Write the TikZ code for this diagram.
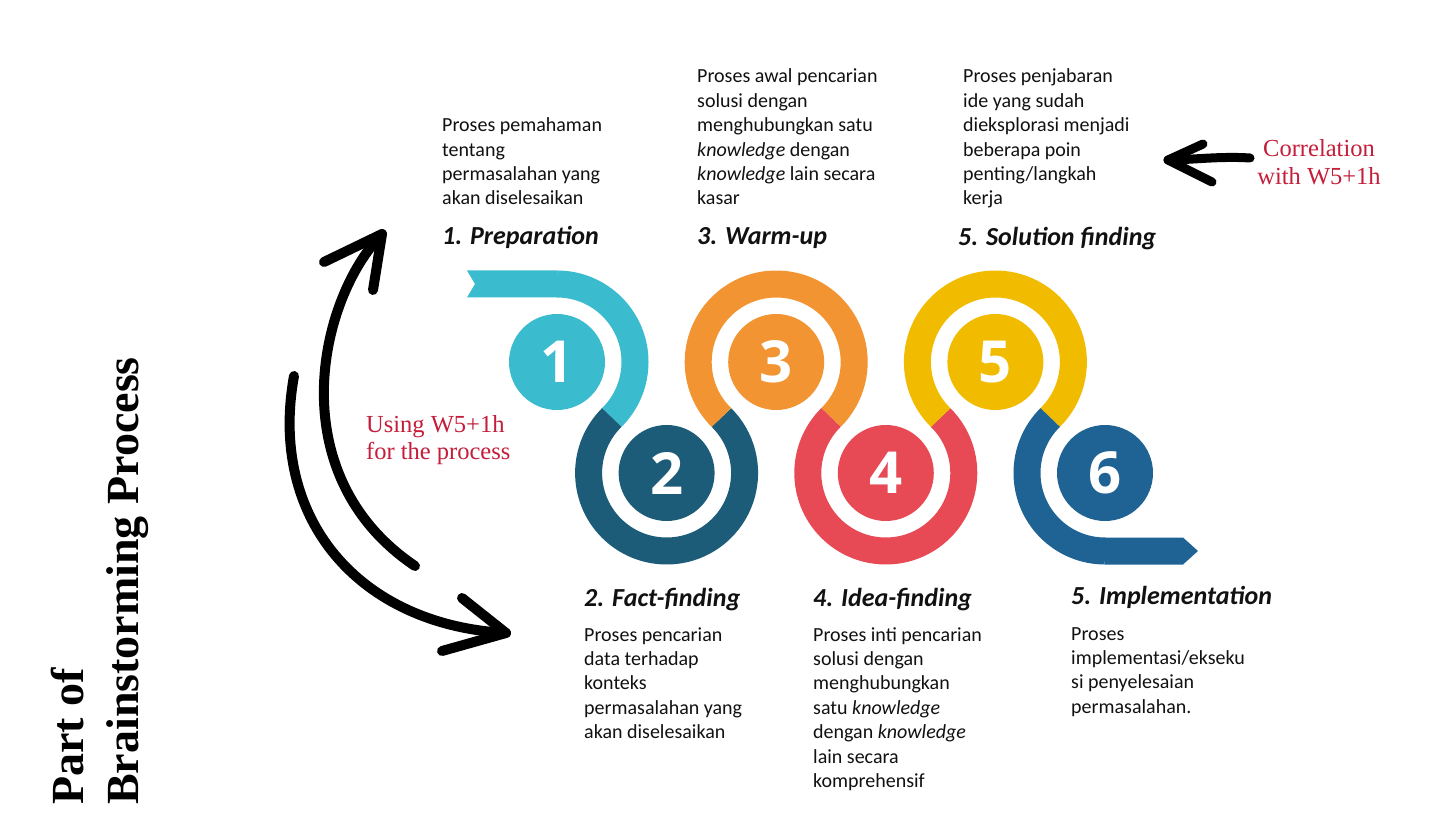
\documentclass[tikz,border=0pt]{standalone}
\usepackage{fontspec}
\setmainfont{Carlito}
\newfontfamily\numfont{Open Sans}
\newfontfamily\rfont{Liberation Serif}
\definecolor{cA}{HTML}{3BBBCE}
\definecolor{cB}{HTML}{1D5C78}
\definecolor{cC}{HTML}{F29431}
\definecolor{cD}{HTML}{E84A55}
\definecolor{cE}{HTML}{F1BC00}
\definecolor{cF}{HTML}{1F6294}
\definecolor{redtext}{HTML}{C41E3A}
\definecolor{ink}{HTML}{111111}
\begin{document}
\begin{tikzpicture}[x=1pt,y=1pt,
  band/.style={line width=27pt},
  numdisc/.style={circle, inner sep=0pt, minimum size=96pt, text=white, font=\numfont\bfseries\fontsize{58}{58}\selectfont},
  body/.style={anchor=base west, inner sep=0pt, align=left, text=ink, font=\fontsize{20}{24.4}\selectfont},
  ttl/.style={anchor=base west, inner sep=0pt, text=ink, font=\fontsize{26}{30}\selectfont\bfseries\itshape},
  redlbl/.style={inner sep=0pt, text=redtext, font=\rfont\fontsize{24.5}{27.5}\selectfont},
  hand/.style={line width=10pt, line cap=round, line join=round, draw=black}]
\useasboundingbox (0,0) rectangle (1436,-837);
\fill[white] (0,0) rectangle (1436,-837);

% centres
\coordinate (c1) at (557,-362);
\coordinate (c2) at (666.6,-473);
\coordinate (c3) at (776.2,-362);
\coordinate (c4) at (885.8,-473);
\coordinate (c5) at (995.4,-362);
\coordinate (c6) at (1105,-473);

% snake bands
\fill[cA] (467,-270.5) -- (557.5,-270.5) -- (557.5,-297.5) -- (467,-297.5) -- (475,-284) -- cycle;
\draw[band, cA] (c1) ++(90:78) arc[start angle=90, end angle=-45.36, radius=78];
\draw[band, cB] (c2) ++(134.64:78) arc[start angle=134.64, end angle=405.36, radius=78];
\draw[band, cC] (c3) ++(225.36:78) arc[start angle=225.36, end angle=-45.36, radius=78];
\draw[band, cD] (c4) ++(134.64:78) arc[start angle=134.64, end angle=405.36, radius=78];
\draw[band, cE] (c5) ++(225.36:78) arc[start angle=225.36, end angle=-45.36, radius=78];
\draw[band, cF] (c6) ++(134.64:78) arc[start angle=134.64, end angle=270, radius=78];
\fill[cF] (1104.5,-537.5) -- (1183,-537.5) -- (1198,-551) -- (1183,-564.5) -- (1104.5,-564.5) -- cycle;

% number discs
\node[numdisc, fill=cA] (n1) at (c1) {1};
\node[numdisc, fill=cB] (n2) at (c2) {2};
\node[numdisc, fill=cC] (n3) at (c3) {3};
\node[numdisc, fill=cD] (n4) at (c4) {4};
\node[numdisc, fill=cE] (n5) at (c5) {5};
\node[numdisc, fill=cF] (n6) at (c6) {6};

% top texts (anchor = baseline of last line)
\node[body] (b1) at (442,-205) {Proses pemahaman\\tentang\\permasalahan yang\\akan diselesaikan};
\node[ttl] (t1) at (442,-245) {1. Preparation};
\node[body] (b3) at (697,-205) {Proses awal pencarian\\solusi dengan\\menghubungkan satu\\\emph{knowledge} dengan\\\emph{knowledge} lain secara\\kasar};
\node[ttl] (t3) at (697,-245) {3. Warm-up};
\node[body] (b5) at (963,-205) {Proses penjabaran\\ide yang sudah\\dieksplorasi menjadi\\beberapa poin\\penting/langkah\\kerja};
\node[ttl] (t5) at (958,-246) {5. Solution finding};

% bottom texts
\node[ttl] (t2) at (584,-606) {2. Fact-finding};
\node[body] (b2) at (584,-738.6) {Proses pencarian\\data terhadap\\konteks\\permasalahan yang\\akan diselesaikan};
\node[ttl] (t4) at (813,-606) {4. Idea-finding};
\node[body] (b4) at (813,-787.4) {Proses inti pencarian\\solusi dengan\\menghubungkan\\satu \emph{knowledge}\\dengan \emph{knowledge}\\lain secara\\komprehensif};
\node[ttl] (t6) at (1071,-604) {5. Implementation};
\node[body] (b6) at (1071,-713.2) {Proses\\implementasi/ekseku\\si penyelesaian\\permasalahan.};

% red labels
\node[redlbl, anchor=base west, align=left] (use) at (366,-459.5) {Using W5+1h\\for the process};
\node[redlbl, anchor=base, align=center] (corr) at (1319,-184.5) {Correlation\\with W5+1h};

% side title
\node[rotate=90, anchor=base west, align=left, inner sep=0pt, text=black,
      font=\rfont\bfseries\fontsize{46}{55}\selectfont] (side) at (138,-805) {Part of\\Brainstorming Process};

% hand-drawn arrows
\coordinate (a1s) at (415,-566);
\coordinate (a1e) at (382,-234);
\coordinate (a1l) at (324,-262);
\coordinate (a1r) at (373,-290);
\draw[hand] (a1s) .. controls (280,-475) and (318,-300) .. (a1e);
\draw[hand] (a1l) -- (a1e) -- (a1r);

\coordinate (a2s) at (294,-376);
\coordinate (a2e) at (506,-633);
\coordinate (a2u) at (462,-598);
\coordinate (a2d) at (442,-651);
\draw[hand] (a2s) .. controls (268,-520) and (360,-625) .. (a2e);
\draw[hand] (a2u) -- (a2e) -- (a2d);

\coordinate (a3s) at (1250,-158);
\coordinate (a3e) at (1168,-160);
\coordinate (a3u) at (1203,-144);
\coordinate (a3d) at (1212,-182);
\draw[hand, line width=9pt] (a3s) .. controls (1220,-156) and (1190,-160) .. (a3e);
\draw[hand, line width=9pt] (a3u) -- (a3e) -- (a3d);
\end{tikzpicture}
\end{document}
